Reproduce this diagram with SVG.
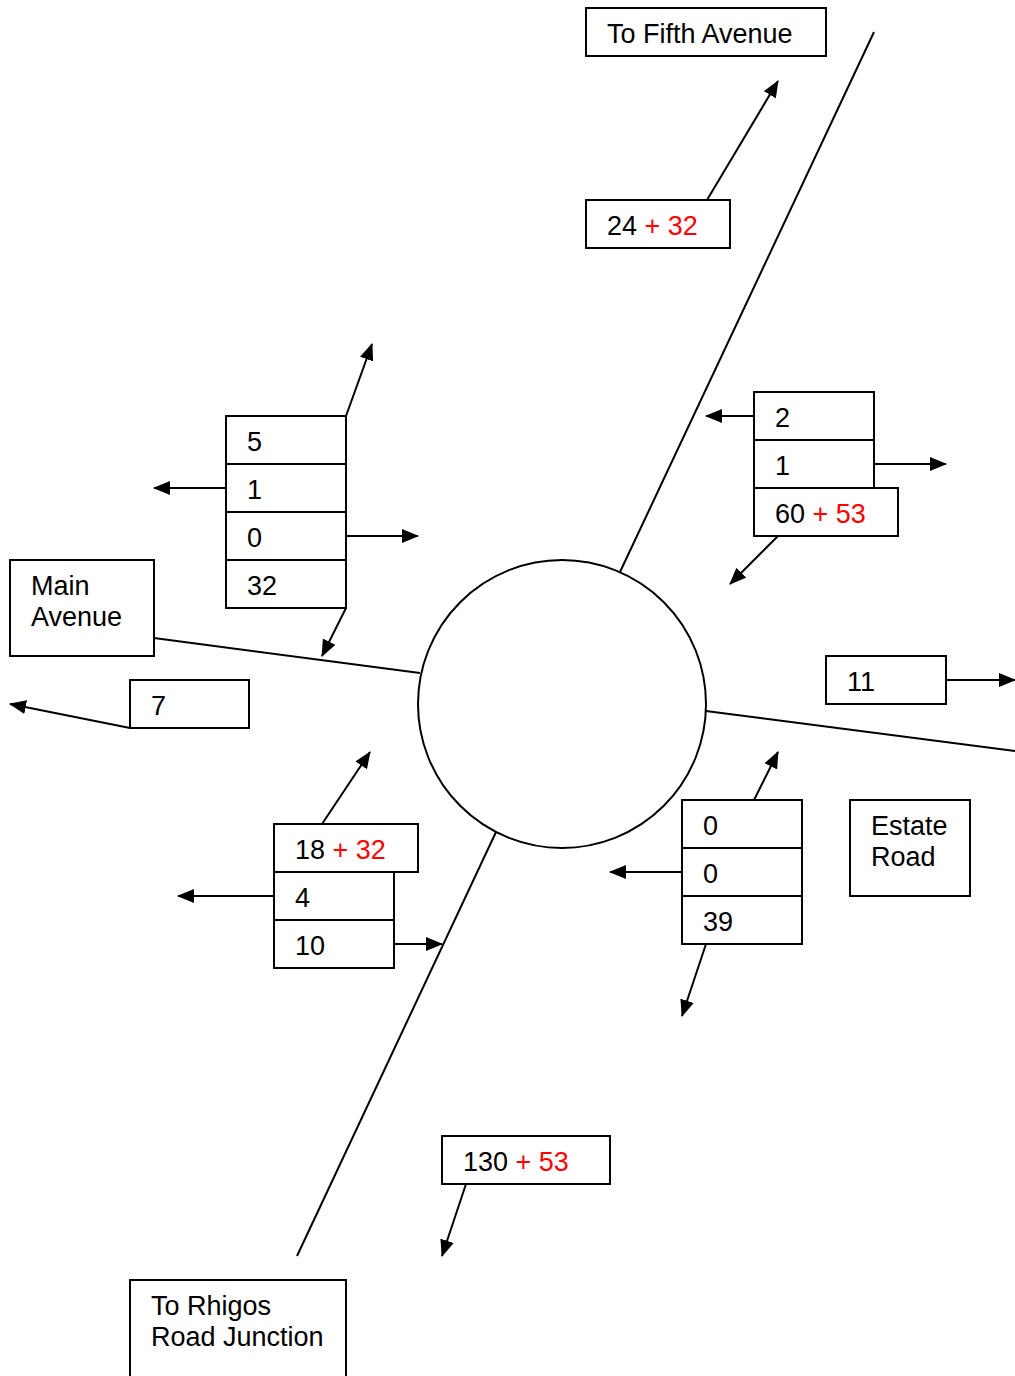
<svg xmlns="http://www.w3.org/2000/svg" width="1015" height="1376" viewBox="0 0 1015 1376">
<style>
.b{fill:#fff;stroke:#000;stroke-width:2}
.l{fill:none;stroke:#000;stroke-width:2}
.a{fill:none;stroke:#000;stroke-width:2;marker-end:url(#ah)}
text{font-family:"Liberation Sans",Arial,sans-serif;font-size:27px;fill:#000}
.r{fill:#ff0000}
</style>
<defs>
<marker id="ah" markerUnits="userSpaceOnUse" markerWidth="18" markerHeight="14" refX="16" refY="7" orient="auto" viewBox="0 0 18 14">
<path d="M0,0 L17,7 L0,14 z" fill="#000"/>
</marker>
</defs>
<rect width="1015" height="1376" fill="#fff"/>
<g id="roads">
<circle id="roundabout" cx="562" cy="704" r="144" class="l"/>
<line x1="874" y1="32" x2="620" y2="572" class="l"/>
<line x1="496" y1="832" x2="297" y2="1256" class="l"/>
<line x1="154" y1="638" x2="420" y2="673" class="l"/>
<line x1="706" y1="711" x2="1015" y2="751" class="l"/>
</g>
<g id="connectors">
<line x1="707" y1="200" x2="778" y2="81" class="a"/>
<line x1="346" y1="416" x2="372" y2="344" class="a"/>
<line x1="226" y1="488" x2="154" y2="488" class="a"/>
<line x1="346" y1="536" x2="418" y2="536" class="a"/>
<line x1="346" y1="608" x2="322" y2="656" class="a"/>
<line x1="130" y1="728" x2="10" y2="704" class="a"/>
<line x1="754" y1="416" x2="706" y2="416" class="a"/>
<line x1="874" y1="464" x2="946" y2="464" class="a"/>
<line x1="778" y1="536" x2="730" y2="584" class="a"/>
<line x1="946" y1="680" x2="1015" y2="680" class="a"/>
<line x1="754" y1="800" x2="778" y2="752" class="a"/>
<line x1="682" y1="872" x2="610" y2="872" class="a"/>
<line x1="706" y1="944" x2="682" y2="1016" class="a"/>
<line x1="322" y1="824" x2="370" y2="752" class="a"/>
<line x1="274" y1="896" x2="178" y2="896" class="a"/>
<line x1="394" y1="944" x2="442" y2="944" class="a"/>
<line x1="466" y1="1184" x2="442" y2="1256" class="a"/>
</g>
<g id="fifth-avenue">
<rect x="586" y="8" width="240" height="48" class="b"/>
<text x="607" y="43">To Fifth Avenue</text>
</g>
<g id="n-24-32">
<rect x="586" y="200" width="144" height="48" class="b"/>
<text x="607" y="235">24 <tspan class="r">+ 32</tspan></text>
</g>
<g id="left-stack">
<rect x="226" y="416" width="120" height="48" class="b"/>
<text x="247" y="451">5</text>
<rect x="226" y="464" width="120" height="48" class="b"/>
<text x="247" y="499">1</text>
<rect x="226" y="512" width="120" height="48" class="b"/>
<text x="247" y="547">0</text>
<rect x="226" y="560" width="120" height="48" class="b"/>
<text x="247" y="595">32</text>
</g>
<g id="main-avenue">
<rect x="10" y="560" width="144" height="96" class="b"/>
<text x="31" y="595">Main</text>
<text x="31" y="626">Avenue</text>
</g>
<g id="n-7">
<rect x="130" y="680" width="119" height="48" class="b"/>
<text x="151" y="715">7</text>
</g>
<g id="right-top-stack">
<rect x="754" y="392" width="120" height="48" class="b"/>
<text x="775" y="427">2</text>
<rect x="754" y="440" width="120" height="48" class="b"/>
<text x="775" y="475">1</text>
<rect x="754" y="488" width="144" height="48" class="b"/>
<text x="775" y="523">60 <tspan class="r">+ 53</tspan></text>
</g>
<g id="n-11">
<rect x="826" y="656" width="120" height="48" class="b"/>
<text x="847" y="691">11</text>
</g>
<g id="estate-road">
<rect x="850" y="800" width="120" height="96" class="b"/>
<text x="871" y="835">Estate</text>
<text x="871" y="866">Road</text>
</g>
<g id="right-bottom-stack">
<rect x="682" y="800" width="120" height="48" class="b"/>
<text x="703" y="835">0</text>
<rect x="682" y="848" width="120" height="48" class="b"/>
<text x="703" y="883">0</text>
<rect x="682" y="896" width="120" height="48" class="b"/>
<text x="703" y="931">39</text>
</g>
<g id="left-bottom-stack">
<rect x="274" y="824" width="144" height="48" class="b"/>
<text x="295" y="859">18 <tspan class="r">+ 32</tspan></text>
<rect x="274" y="872" width="120" height="48" class="b"/>
<text x="295" y="907">4</text>
<rect x="274" y="920" width="120" height="48" class="b"/>
<text x="295" y="955">10</text>
</g>
<g id="n-130-53">
<rect x="442" y="1136" width="168" height="48" class="b"/>
<text x="463" y="1171">130 <tspan class="r">+ 53</tspan></text>
</g>
<g id="rhigos">
<rect x="130" y="1280" width="216" height="100" class="b"/>
<text x="151" y="1315">To Rhigos</text>
<text x="151" y="1346">Road Junction</text>
</g>
</svg>
